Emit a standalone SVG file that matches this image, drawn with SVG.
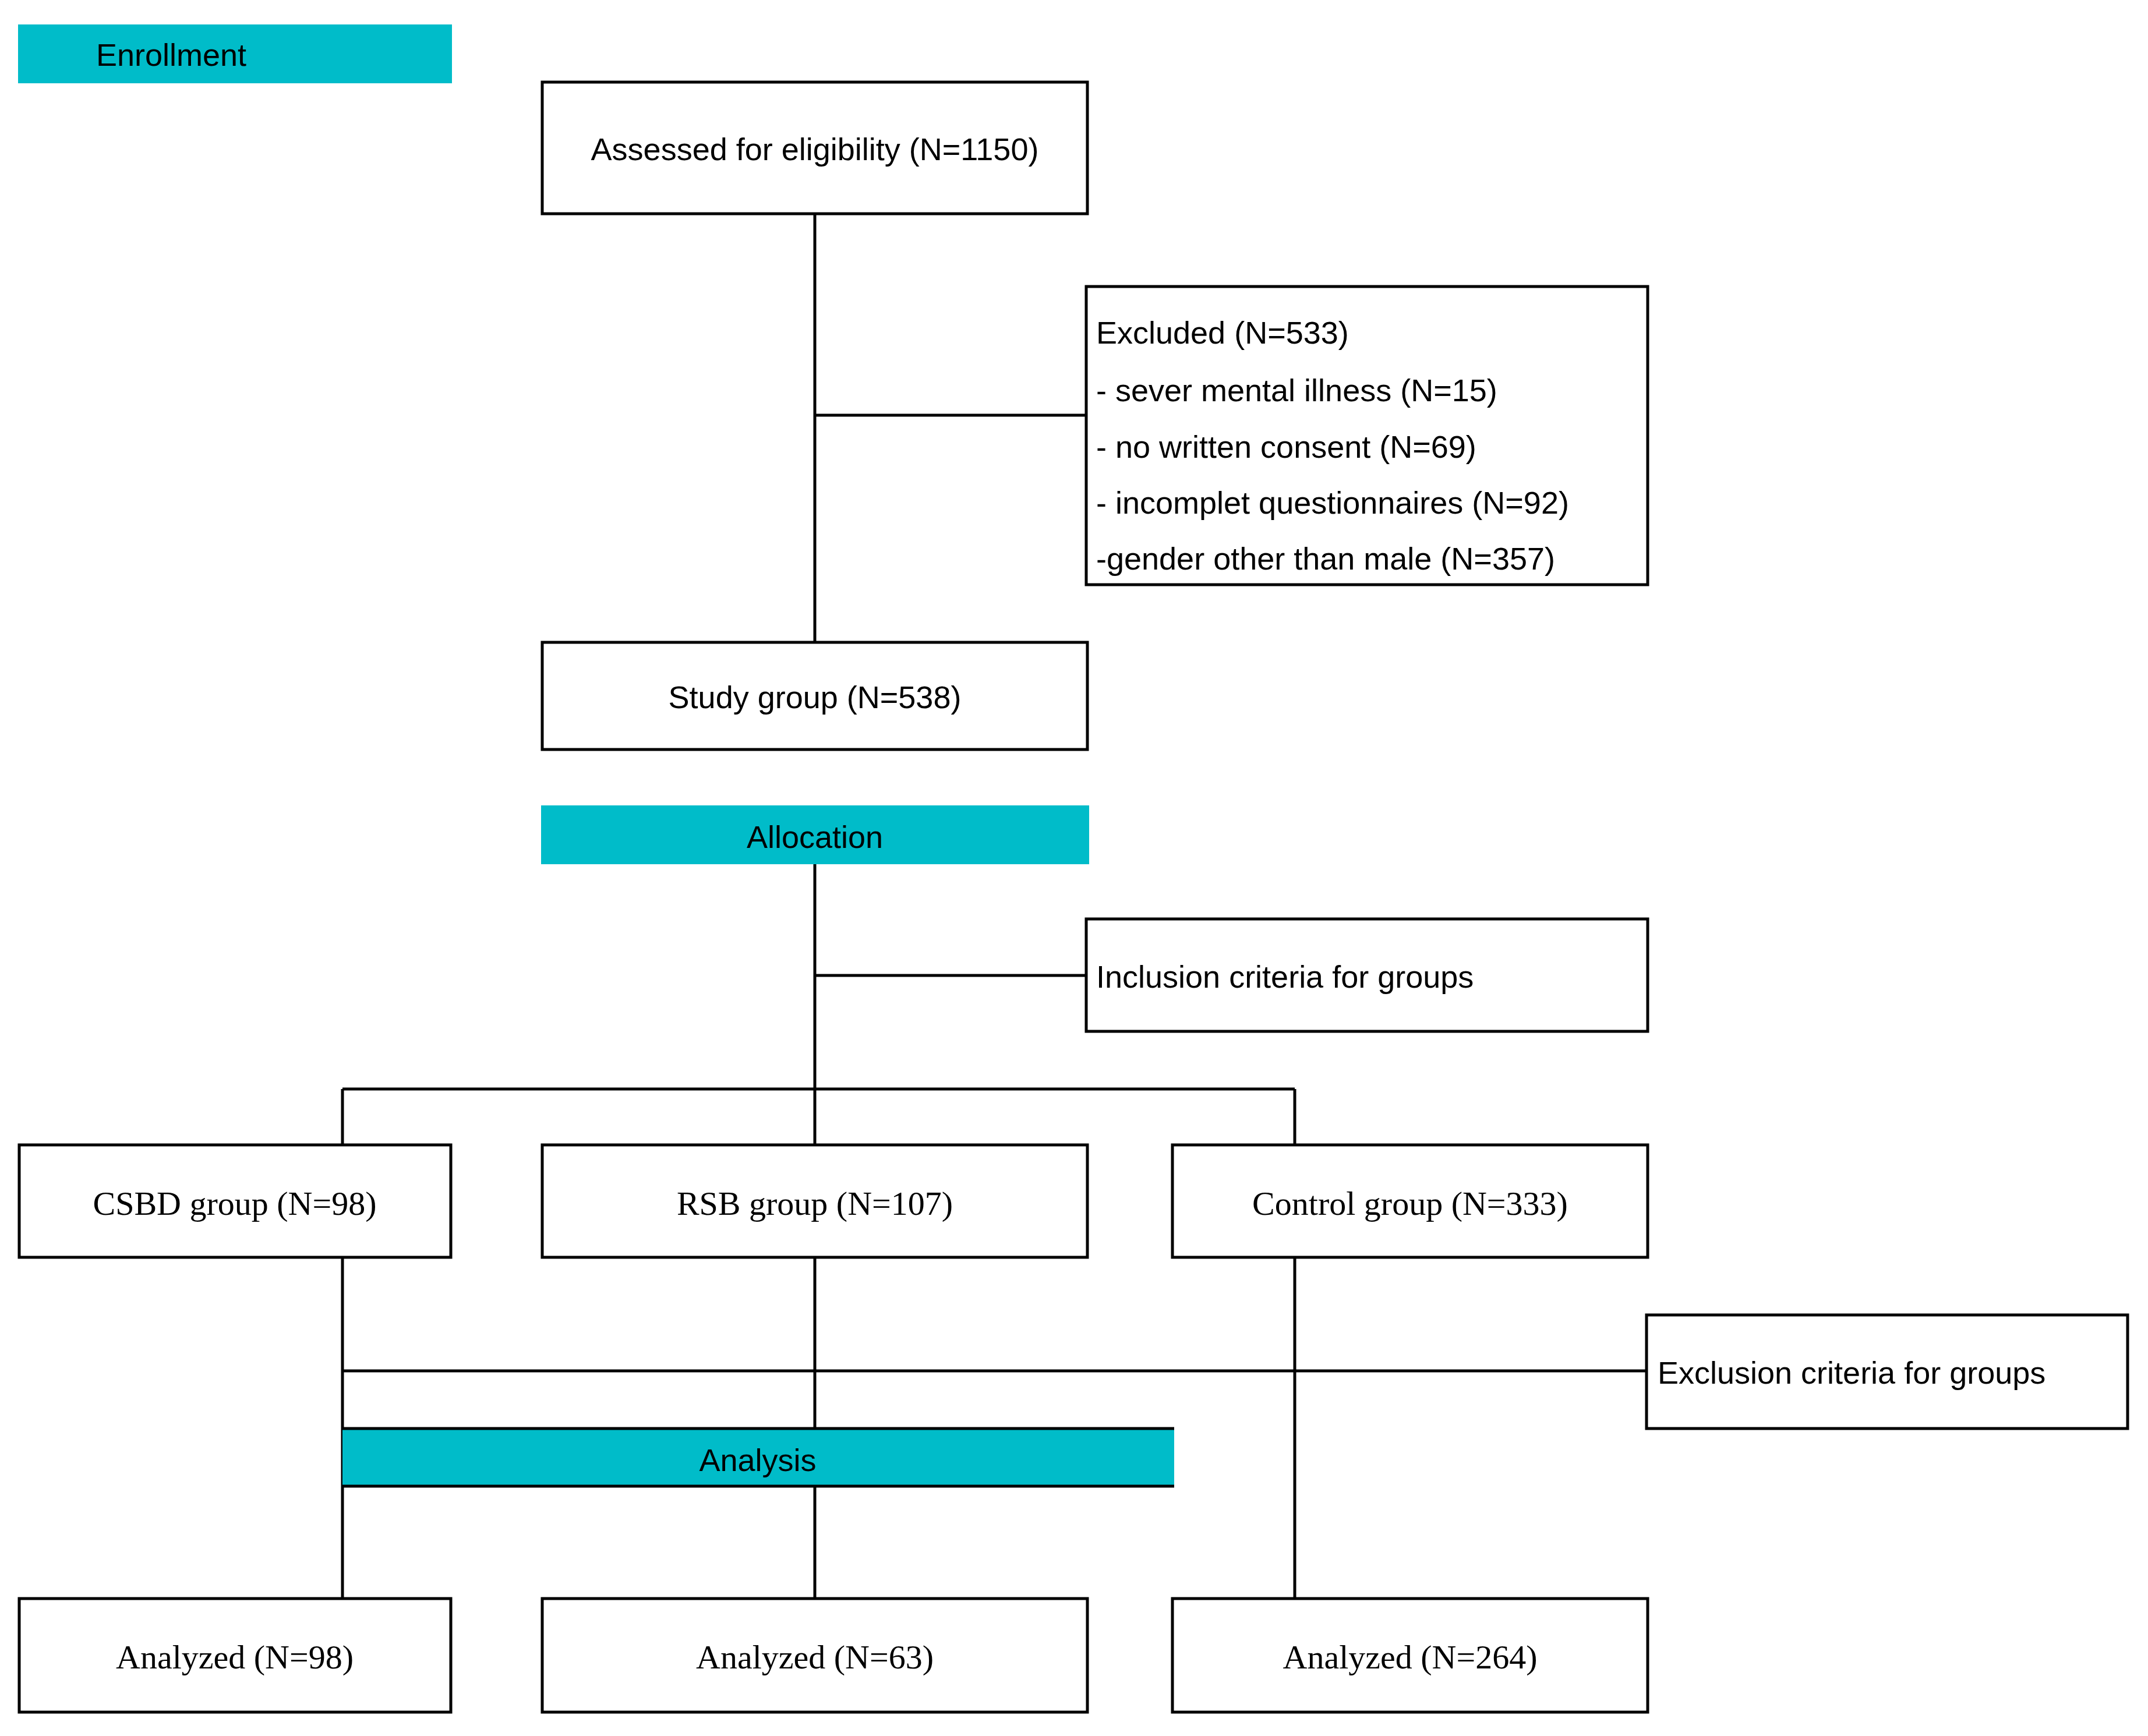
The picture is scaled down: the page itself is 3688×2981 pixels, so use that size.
<svg xmlns="http://www.w3.org/2000/svg" width="3688" height="2981" viewBox="0 0 3688 2981">
<style>
.b{fill:#fff;stroke:#000;stroke-width:5}
.bar{fill:#00BCC9}
.t{font-family:"Liberation Sans",Arial,sans-serif;font-size:54px;fill:#000}
.s{font-family:"Liberation Serif","Times New Roman",serif;font-size:58px;fill:#000}
.c{text-anchor:middle}
line{stroke:#000;stroke-width:5}
</style>
<rect width="3688" height="2981" fill="#fff"/>
<g id="connectors">
<line x1="1399" y1="367" x2="1399" y2="1103"/>
<line x1="1399" y1="713" x2="1865" y2="713"/>
<line x1="1399" y1="1484" x2="1399" y2="1966"/>
<line x1="1399" y1="1675" x2="1865" y2="1675"/>
<line x1="588" y1="1870" x2="2223" y2="1870"/>
<line x1="588" y1="1870" x2="588" y2="1966"/>
<line x1="2223" y1="1870" x2="2223" y2="1966"/>
<line x1="588" y1="2159" x2="588" y2="2745"/>
<line x1="1399" y1="2159" x2="1399" y2="2745"/>
<line x1="2223" y1="2159" x2="2223" y2="2745"/>
<line x1="588" y1="2354" x2="2827" y2="2354"/>
</g>
<g id="enrollment"><rect class="bar" x="31" y="42" width="745" height="101"/><text class="t" x="165" y="113">Enrollment</text></g>
<g id="assessed"><rect class="b" x="931" y="141" width="936" height="226"/><text class="t c" x="1399" y="275">Assessed for eligibility (N=1150)</text></g>
<g id="excluded"><rect class="b" x="1865" y="492" width="964" height="512"/>
<text class="t" x="1882" y="590">Excluded (N=533)</text>
<text class="t" x="1882" y="689">- sever mental illness (N=15)</text>
<text class="t" x="1882" y="786">- no written consent (N=69)</text>
<text class="t" x="1882" y="882">- incomplet questionnaires (N=92)</text>
<text class="t" x="1882" y="978">-gender other than male (N=357)</text></g>
<g id="study"><rect class="b" x="931" y="1103" width="936" height="184"/><text class="t c" x="1399" y="1216">Study group (N=538)</text></g>
<g id="allocation"><rect class="bar" x="929" y="1383" width="941" height="101"/><text class="t c" x="1399" y="1456">Allocation</text></g>
<g id="inclusion"><rect class="b" x="1865" y="1578" width="964" height="193"/><text class="t" x="1882" y="1696">Inclusion criteria for groups</text></g>
<g id="csbd"><rect class="b" x="33" y="1966" width="741" height="193"/><text class="s c" x="403" y="2086">CSBD group (N=98)</text></g>
<g id="rsb"><rect class="b" x="931" y="1966" width="936" height="193"/><text class="s c" x="1399" y="2086">RSB group (N=107)</text></g>
<g id="control"><rect class="b" x="2013" y="1966" width="816" height="193"/><text class="s c" x="2421" y="2086">Control group (N=333)</text></g>
<g id="exclusion"><rect class="b" x="2827" y="2258" width="826" height="195"/><text class="t" x="2846" y="2376">Exclusion criteria for groups</text></g>
<g id="analysis"><rect class="bar" x="588" y="2453" width="1428" height="99"/><line x1="588" y1="2453" x2="2016" y2="2453"/><line x1="588" y1="2552" x2="2016" y2="2552"/><text class="t c" x="1301" y="2526">Analysis</text></g>
<g id="an1"><rect class="b" x="33" y="2745" width="741" height="195"/><text class="s c" x="403" y="2865">Analyzed (N=98)</text></g>
<g id="an2"><rect class="b" x="931" y="2745" width="936" height="195"/><text class="s c" x="1399" y="2865">Analyzed (N=63)</text></g>
<g id="an3"><rect class="b" x="2013" y="2745" width="816" height="195"/><text class="s c" x="2421" y="2865">Analyzed (N=264)</text></g>
</svg>
